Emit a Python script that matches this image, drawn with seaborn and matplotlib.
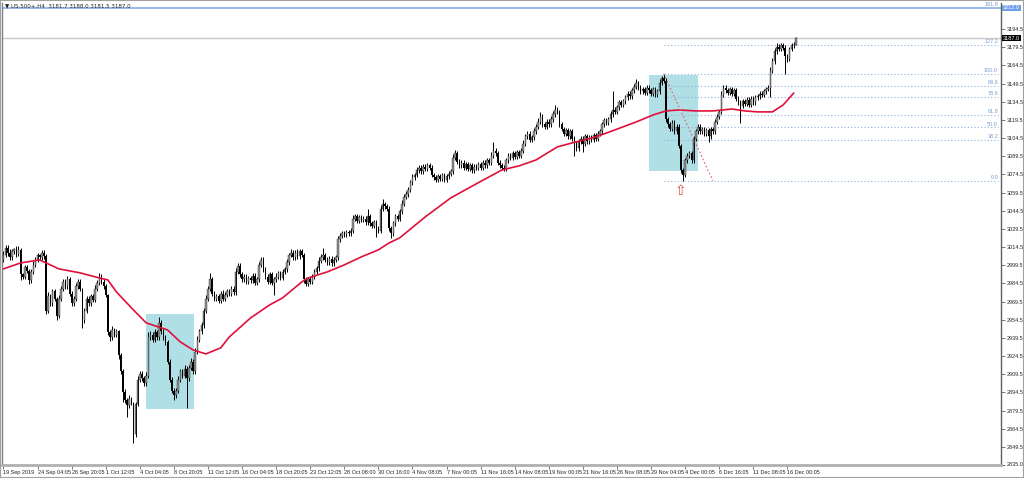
import numpy as np
import matplotlib
matplotlib.use("Agg")
import matplotlib.pyplot as plt
import matplotlib.patches as patches
import seaborn as sns

# ---- data (H4 bars, index = bar number) ----
first_open = 3004.0
closes = [
    3008, 3014, 3010, 3006, 3011, 3013, 3009, 3012, 2992, 2990, 2998, 2995, 2987, 2994, 3000, 3004, 3008, 3006, 3010, 3007,
    2962, 2974, 2968, 2978, 2972, 2958, 2972, 2980, 2986, 2982, 2988, 2976, 2968, 2972, 2982, 2986, 2980, 2954, 2962, 2972,
    2968, 2974, 2971, 2980, 2985, 2990, 2986, 2982, 2975, 2944, 2940, 2946, 2942, 2945, 2925, 2912, 2895, 2888, 2884, 2889,
    2886, 2860, 2885, 2905, 2910, 2906, 2902, 2908, 2940, 2942, 2938, 2944, 2940, 2952, 2945, 2940, 2936, 2920, 2905, 2896,
    2892, 2896, 2905, 2912, 2908, 2914, 2906, 2915, 2920, 2912, 2928, 2938, 2945, 2950, 2962, 2972, 2980, 2988, 2976, 2972,
    2974, 2970, 2976, 2972, 2975, 2978, 2976, 2980, 2977, 2994, 2999, 2992, 2988, 2990, 2986, 2989, 2987, 2991, 2985, 2988,
    3000, 3004, 2996, 2990, 2986, 2992, 2985, 2988, 2990, 2993, 2989, 2994, 2996, 3002, 3008, 3010, 3006, 3010, 3007, 3011,
    3008, 2988, 2984, 2988, 2986, 2990, 2994, 2997, 3003, 3006, 3008, 3004, 3002, 3005, 3001, 3004, 3006, 3021, 3024, 3026,
    3025, 3027, 3026, 3028, 3038, 3040, 3036, 3039, 3037, 3038, 3035, 3040, 3034, 3032, 3035, 3030, 3028, 3046, 3050, 3048,
    3046, 3030, 3026, 3034, 3040, 3038, 3044, 3050, 3056, 3058, 3062, 3068, 3072, 3074, 3078, 3080, 3077, 3081, 3079, 3082,
    3080, 3074, 3072, 3070, 3073, 3071, 3074, 3070, 3073, 3075, 3077, 3088, 3092, 3085, 3082, 3084, 3080, 3083, 3079, 3082,
    3078, 3081, 3080, 3083, 3080, 3084, 3082, 3086, 3084, 3090, 3094, 3092, 3084, 3082, 3080, 3079, 3086, 3090, 3088, 3092,
    3089, 3093, 3090, 3094, 3100, 3106, 3108, 3103, 3105, 3110, 3114, 3118, 3122, 3116, 3114, 3118, 3116, 3120, 3124, 3128,
    3126, 3116, 3112, 3108, 3111, 3106, 3110, 3104, 3100, 3096, 3102, 3104, 3100, 3106, 3102, 3105, 3103, 3107, 3104, 3108,
    3110, 3116, 3119, 3117, 3120, 3124, 3128, 3126, 3130, 3134, 3132, 3135, 3138, 3141, 3139, 3144, 3147, 3150, 3146, 3143,
    3145, 3142, 3146, 3144, 3141, 3145, 3140, 3143, 3150, 3154, 3152, 3120, 3116, 3112, 3117, 3110, 3114, 3098, 3078, 3074,
    3086, 3090, 3092, 3086, 3104, 3110, 3114, 3110, 3112, 3108, 3111, 3106, 3112, 3110, 3118, 3122, 3126, 3140, 3146, 3144,
    3142, 3145, 3141, 3144, 3137, 3134, 3131, 3135, 3133, 3136, 3132, 3137, 3134, 3138, 3139, 3141, 3140, 3143, 3145, 3146,
    3160, 3168, 3176, 3180, 3178, 3181, 3179, 3172, 3170, 3178, 3181, 3181.7, 3187.0,
]
up_wick = [
    3, 2, 2, 3, 2, 1, 2, 3, 2, 1, 2, 2, 1, 2, 3, 2, 2, 1, 2, 2,
    2, 3, 2, 2, 2, 1, 3, 2, 2, 2, 3, 2, 2, 2, 3, 2, 2, 1, 2, 2,
    2, 2, 2, 3, 2, 3, 2, 2, 2, 1, 2, 3, 2, 2, 1, 2, 2, 2, 2, 3,
    2, 1, 2, 3, 2, 2, 2, 3, 4, 3, 2, 3, 2, 5, 2, 2, 2, 2, 2, 2,
    2, 2, 3, 2, 2, 3, 2, 2, 3, 2, 3, 3, 2, 3, 2, 3, 2, 5, 2, 2,
    2, 2, 2, 3, 2, 2, 2, 2, 2, 3, 2, 2, 2, 2, 2, 2, 2, 2, 2, 2,
    2, 2, 2, 2, 2, 2, 2, 2, 3, 2, 2, 2, 2, 3, 2, 3, 2, 2, 3, 2,
    2, 2, 2, 2, 2, 2, 2, 2, 3, 3, 6, 2, 2, 2, 2, 2, 2, 3, 2, 2,
    2, 2, 2, 2, 3, 2, 2, 2, 2, 2, 2, 6, 2, 2, 2, 2, 2, 3, 4, 2,
    2, 2, 2, 2, 2, 2, 2, 3, 2, 3, 2, 2, 3, 2, 3, 2, 2, 2, 2, 2,
    2, 2, 2, 2, 2, 2, 2, 2, 2, 2, 2, 3, 3, 2, 2, 2, 2, 2, 2, 2,
    2, 2, 2, 2, 2, 2, 2, 2, 2, 3, 7, 2, 2, 2, 2, 2, 2, 2, 2, 2,
    2, 2, 2, 2, 3, 2, 2, 2, 2, 3, 2, 3, 4, 2, 2, 2, 2, 3, 3, 4,
    2, 2, 2, 2, 2, 2, 2, 2, 2, 2, 2, 2, 2, 2, 2, 2, 2, 2, 2, 2,
    2, 2, 2, 2, 2, 3, 15, 2, 2, 2, 2, 2, 2, 2, 2, 2, 2, 3, 2, 2,
    2, 2, 2, 2, 2, 2, 2, 2, 3, 2, 3.5, 2, 2, 2, 2, 2, 2, 2, 2, 2,
    2, 2, 2, 2, 2, 2, 2, 2, 2, 2, 2, 2, 2, 2, 2, 2, 2, 3, 2, 2,
    2, 2, 2, 2, 2, 2, 2, 2, 2, 2, 2, 2, 2, 2, 2, 2, 2, 2, 2, 2,
    3, 3, 3, 3, 2, 2, 2, 2, 2, 2, 2, 2, 1.0,
]
dn_wick = [
    2, 2, 3, 2, 2, 2, 3, 2, 5, 2, 2, 2, 3, 2, 2, 2, 2, 2, 2, 2,
    3, 2, 2, 2, 2, 4, 2, 2, 2, 2, 2, 2, 2, 2, 2, 2, 2, 6, 2, 2,
    2, 2, 2, 2, 2, 2, 2, 2, 2, 2, 3, 2, 2, 2, 3, 2, 8, 2, 10, 2,
    2, 7, 2, 2, 2, 2, 2, 2, 2, 2, 2, 2, 2, 2, 2, 2, 2, 2, 2, 2,
    4, 2, 2, 2, 2, 2, 24, 2, 2, 2, 2, 2, 2, 2, 2, 2, 2, 2, 2, 2,
    2, 2, 2, 2, 2, 2, 2, 2, 2, 2, 2, 2, 2, 2, 2, 2, 2, 2, 2, 2,
    2, 2, 2, 2, 2, 2, 2, 10, 2, 2, 2, 2, 2, 2, 2, 2, 2, 2, 2, 2,
    2, 3, 2, 2, 2, 2, 2, 2, 2, 2, 2, 2, 2, 2, 2, 2, 2, 2, 2, 2,
    2, 2, 2, 2, 2, 2, 2, 2, 2, 2, 2, 2, 2, 2, 2, 7, 2, 2, 2, 2,
    2, 2, 4, 2, 2, 2, 2, 2, 2, 2, 2, 2, 2, 2, 2, 2, 2, 2, 2, 2,
    2, 2, 2, 2, 2, 2, 2, 2, 2, 2, 2, 2, 2, 2, 2, 2, 2, 2, 2, 2,
    2, 2, 2, 2, 2, 2, 2, 2, 2, 2, 2, 2, 2, 2, 2, 2, 2, 2, 2, 2,
    2, 2, 2, 2, 2, 2, 2, 2, 2, 2, 2, 2, 2, 2, 2, 2, 2, 2, 2, 2,
    2, 2, 2, 2, 2, 2, 2, 2, 10, 2, 2, 2, 7, 2, 2, 2, 2, 2, 2, 2,
    2, 2, 2, 2, 2, 2, 2, 2, 2, 2, 2, 2, 2, 2, 2, 2, 2, 2, 2, 2,
    2, 2, 2, 2, 2, 2, 1.5, 2, 2, 2, 2, 2, 2, 2, 2, 2, 2, 2, 2, 4.7,
    2, 2, 2, 2, 2, 2, 2, 2, 2, 2, 2, 5, 2, 2, 2, 2, 2, 2, 2, 2,
    2, 2, 2, 2, 2, 2, 14, 2, 2, 2, 2, 2, 2, 2, 2, 2, 2, 2, 2, 2,
    8, 2, 2, 2, 2, 2, 2, 15, 3, 2, 2, 2, 0.2,
]

# moving average (red line), sampled at bar positions
ma_idx = [0, 8, 17, 20, 26, 36, 45, 49, 53, 61, 67, 77, 83, 89, 95, 102, 106, 116, 125, 131,
          140, 143, 152, 160, 168, 176, 181, 186, 198, 210, 221, 234, 242, 250, 260, 267, 278,
          287, 297, 305, 311, 317, 325, 333, 342, 348, 354, 361, 366, 371]
ma_val = [2996.5, 3001.4, 3003.9, 3001.4, 2996.5, 2993.2, 2989.0, 2987.4, 2977.5, 2962.6,
          2951.9, 2946.1, 2936.2, 2929.6, 2926.3, 2931.3, 2940.3, 2956.0, 2966.8, 2972.5,
          2985.7, 2989.0, 2994.0, 2999.8, 3006.4, 3012.2, 3017.9, 3022.1, 3039.4, 3055.1,
          3065.8, 3078.2, 3081.5, 3086.4, 3097.2, 3100.5, 3105.4, 3111.2, 3117.8, 3123.6,
          3126.9, 3127.7, 3126.9, 3126.9, 3128.5, 3126.9, 3126.1, 3126.1, 3131.8, 3141.7]

# fibonacci retracement
fib_low, fib_high = 3069.3, 3157.5
fib_start, fib_end = 310, 333
fib_levels = [0.0, 38.2, 50.0, 61.8, 78.6, 88.6, 100.0, 127.2, 161.8]

# shaded zones (bar from, bar to, price low, price high)
zones = [(66.9, 89.4, 2880.9, 2959.3), (303.1, 326.1, 3077.4, 3156.6)]

y_ticks = [2835.0, 2849.5, 2864.5, 2879.5, 2894.5, 2909.5, 2924.5, 2939.5, 2954.5, 2969.5,
           2984.5, 2999.5, 3014.5, 3029.5, 3044.5, 3059.5, 3074.5, 3089.5, 3104.5, 3119.5,
           3134.5, 3149.5, 3164.5, 3179.5, 3194.5]
x_labels = ["19 Sep 2019", "24 Sep 04:05", "26 Sep 20:05", "1 Oct 12:05", "4 Oct 04:05",
            "8 Oct 20:05", "11 Oct 12:05", "16 Oct 04:05", "18 Oct 20:05", "23 Oct 12:05",
            "28 Oct 08:00", "30 Oct 16:00", "4 Nov 08:05", "7 Nov 00:05", "11 Nov 16:05",
            "14 Nov 08:05", "19 Nov 00:05", "21 Nov 16:05", "26 Nov 08:05", "29 Nov 04:05",
            "4 Dec 00:05", "6 Dec 16:05", "11 Dec 08:05", "16 Dec 00:05"]
label_step = 16
bid = 3187.0

# ---- figure ----
sns.set_style("white")
plt.rcParams["font.family"] = ["Liberation Sans Narrow", "Liberation Sans", "DejaVu Sans"]
small = 4.0

fig = plt.figure(figsize=(10.24, 4.78), dpi=100)
ax = fig.add_axes([2 / 1024, 13.5 / 478, 999 / 1024, 461.5 / 478])

c = np.array(closes, dtype=float)
o = np.concatenate([[first_open], c[:-1]])
hi = np.maximum(o, c) + np.array(up_wick)
lo = np.minimum(o, c) - np.array(dn_wick)
idx = np.arange(len(c))

# zones behind the bars
for x0, x1, p0, p1 in zones:
    ax.add_patch(patches.Rectangle((x0, p0), x1 - x0, p1 - p0,
                                   facecolor="#b0e0e6", edgecolor="none", zorder=0))

# candles
ax.vlines(idx, lo, hi, color="black", lw=0.7, zorder=2)
bull = c >= o
body = np.where(np.abs(c - o) < 0.6, 0.6, np.abs(c - o))
ax.bar(idx[bull], body[bull], bottom=np.minimum(o, c)[bull], width=0.7,
       color="#909090", edgecolor="#303030", linewidth=0.3, zorder=3)
ax.bar(idx[~bull], body[~bull], bottom=np.minimum(o, c)[~bull], width=0.7,
       color="black", linewidth=0, zorder=3)

# moving average
sns.lineplot(x=ma_idx, y=ma_val, ax=ax, color="#e0103c", lw=1.2, zorder=4)

# lines across the chart
ax.axhline(3212.0, color="#9dbbe6", lw=1.5, zorder=1)
ax.axhline(bid, color="#c8c8c8", lw=1.0, zorder=1)

# fibonacci
x_right = 466.9
rng = fib_high - fib_low
for lv in fib_levels:
    p = fib_low + rng * lv / 100.0
    if lv != 161.8:
        ax.hlines(p, fib_start, x_right, color="#8fb0dc", lw=0.8,
                  linestyle=(0, (1, 2)), zorder=1)
    ax.text(x_right, p + 0.6, f"{lv:.1f}", fontsize=small, color="#7a9fd0",
            ha="right", va="bottom", clip_on=False)
sns.lineplot(x=[fib_start, fib_end], y=[fib_high, fib_low], ax=ax, color="#e06060",
             lw=0.8, linestyle=(0, (1.5, 2)), zorder=4)

# arrow under the low
ax.text(317.6, 3061.0, "\u21e7", color="#e04848", fontsize=10, ha="center", va="center",
        family="DejaVu Sans")

ax.set_xlim(-0.7, 468.3)
ax.set_ylim(2835.0, 3216.0)
ax.set_xlabel("")
ax.set_ylabel("")

ax.yaxis.tick_right()
ax.set_yticks(y_ticks)
ax.set_yticklabels([f"{v:.1f}" for v in y_ticks], fontsize=small)
ax.set_xticks([k * label_step for k in range(len(x_labels))])
ax.set_xticklabels(x_labels, fontsize=small, ha="left")
ax.tick_params(axis="both", length=3, width=0.6, color="#606060", pad=1.2, direction="out")
ax.tick_params(axis="y", right=True, left=False, labelright=True, labelleft=False)
ax.tick_params(axis="x", bottom=True)

ax.spines["top"].set_visible(False)
ax.spines["right"].set_color("#606060")
ax.spines["right"].set_linewidth(1.0)
ax.spines["left"].set_color("#808080")
ax.spines["left"].set_linewidth(1.0)
ax.spines["bottom"].set_color("#b0b0b0")
ax.spines["bottom"].set_linewidth(2.0)

# price tags on the right axis
ytr = ax.get_yaxis_transform()
ax.text(1.002, 3212.0, "3212.0", transform=ytr, fontsize=small, color="white", va="center",
        ha="left", bbox=dict(boxstyle="square,pad=0.15", facecolor="#6f9fe8", edgecolor="none"),
        clip_on=False)
ax.text(1.002, bid, "3187.0", transform=ytr, fontsize=small, color="white", va="center",
        ha="left", bbox=dict(boxstyle="square,pad=0.15", facecolor="black", edgecolor="none"),
        clip_on=False)

fig.text(5 / 1024, 1 - 6 / 478, "\u25bc US.500+,H4  3181.7 3188.0 3181.5 3187.0",
         fontsize=small, va="center", ha="left", family=["Liberation Sans Narrow", "DejaVu Sans"])
fig.patches.append(patches.Rectangle((0, 0), 1, 1, transform=fig.transFigure, fill=False,
                                     edgecolor="#a0a0a0", lw=1.5))

fig.savefig("out.png", dpi=100)
